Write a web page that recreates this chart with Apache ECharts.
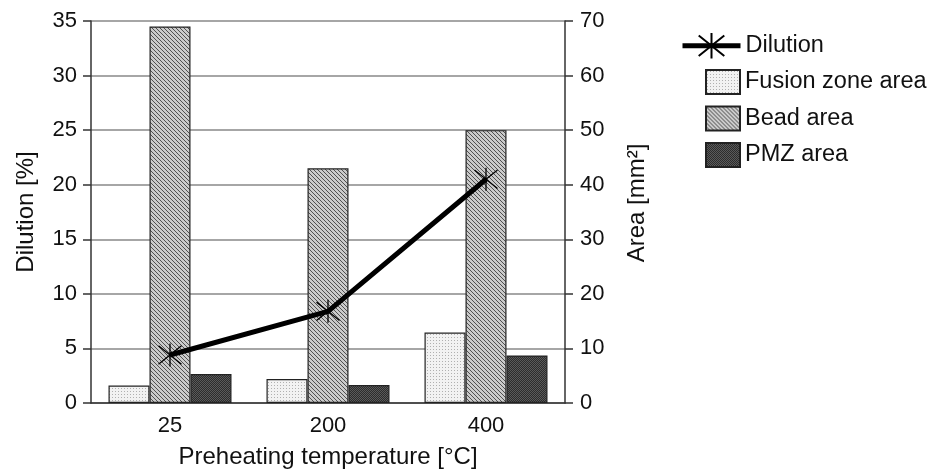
<!DOCTYPE html>
<html>
<head>
<meta charset="utf-8">
<script src="https://cdn.jsdelivr.net/npm/echarts@6/dist/echarts.min.js"></script>
<style>
  html, body { margin: 0; padding: 0; background: #fff; }
  #chart { width: 938px; height: 474px; }
</style>
</head>
<body>
<div id="chart"></div>
<script>
// Preheating temperatures (°C) on the category axis
const temperatures = ['25', '200', '400'];
// Dilution in percent (left axis)
const dilution = [4.4, 8.4, 20.5];
// Cross-section areas in mm² (right axis)
const fusionZoneArea = [3.2, 4.4, 12.9];
const beadArea = [69.0, 43.0, 50.0];
const pmzArea = [5.3, 3.3, 8.7];

// Small tiled textures used as bar fills
function makePattern(size, bg, fg, pixels) {
  const c = document.createElement('canvas');
  c.width = size; c.height = size;
  const ctx = c.getContext('2d');
  ctx.fillStyle = bg;
  ctx.fillRect(0, 0, size, size);
  ctx.fillStyle = fg;
  pixels.forEach(p => ctx.fillRect(p[0], p[1], 1, 1));
  return { image: c, repeat: 'repeat' };
}
const dotted = makePattern(3, '#f2f2f2', '#b0b0b0', [[1, 1]]);
const hatched = makePattern(4, '#cacaca', '#505050', [[0, 0], [1, 1], [2, 2], [3, 3]]);
const dark = makePattern(2, '#2c2c2c', '#5a5a5a', [[0, 0], [1, 1]]);

const FONT = 'Liberation Sans, Arial, sans-serif';
const TXT = '#111';
const STAR = 'path://M10 0 L10 20 M1 2 L19 18 M1 18 L19 2';

const chart = echarts.init(document.getElementById('chart'));
chart.setOption({
  animation: false,
  backgroundColor: '#fff',
  textStyle: { fontFamily: FONT },
  grid: { left: 91, right: 373, top: 21, bottom: 69 },
  legend: [
    {
      data: ['Dilution'],
      orient: 'vertical', left: 675, top: 27,
      itemWidth: 58, itemHeight: 32, itemGap: 8,
      lineStyle: { width: 5, color: '#000' },
      textStyle: { fontSize: 23.5, color: TXT, fontFamily: FONT }
    },
    {
      data: ['Fusion zone area', 'Bead area', 'PMZ area'],
      orient: 'vertical', left: 700, top: 64,
      icon: 'rect',
      itemWidth: 34, itemHeight: 24, itemGap: 10.5,
      textStyle: { fontSize: 23.5, color: TXT, fontFamily: FONT }
    }
  ],
  xAxis: {
    type: 'category',
    data: temperatures,
    name: 'Preheating temperature [°C]',
    nameLocation: 'middle',
    nameGap: 42,
    nameTextStyle: { fontSize: 24, color: TXT, fontFamily: FONT },
    axisLine: { lineStyle: { color: '#333', width: 1.5 } },
    axisTick: { show: false },
    axisLabel: { fontSize: 22, color: TXT, margin: 12, fontFamily: FONT }
  },
  yAxis: [
    {
      type: 'value', min: 0, max: 35, interval: 5,
      name: 'Dilution [%]',
      nameLocation: 'middle',
      nameGap: 53,
      nameTextStyle: { fontSize: 24, color: TXT, fontFamily: FONT },
      axisLine: { show: true, lineStyle: { color: '#333', width: 1.5 } },
      axisTick: { show: true, length: 8, lineStyle: { color: '#333', width: 1.5 } },
      axisLabel: { fontSize: 22, color: TXT, margin: 14, fontFamily: FONT },
      splitLine: { show: true, lineStyle: { color: '#888', width: 1.5 } }
    },
    {
      type: 'value', min: 0, max: 70, interval: 10,
      name: 'Area [mm²]',
      nameLocation: 'middle',
      nameGap: 60,
      nameTextStyle: { fontSize: 24, color: TXT, fontFamily: FONT, padding: [0, 0, 0, 18] },
      axisLine: { show: true, lineStyle: { color: '#333', width: 1.5 } },
      axisTick: { show: true, length: 8, lineStyle: { color: '#333', width: 1.5 } },
      axisLabel: { fontSize: 22, color: TXT, margin: 15, fontFamily: FONT },
      splitLine: { show: false }
    }
  ],
  series: [
    {
      name: 'Fusion zone area', type: 'bar', yAxisIndex: 1,
      data: fusionZoneArea, barWidth: 41, barGap: '0%',
      itemStyle: { color: dotted, borderColor: '#222', borderWidth: 1.2 }
    },
    {
      name: 'Bead area', type: 'bar', yAxisIndex: 1,
      data: beadArea, barWidth: 41, barGap: '0%',
      itemStyle: { color: hatched, borderColor: '#222', borderWidth: 1.2 }
    },
    {
      name: 'PMZ area', type: 'bar', yAxisIndex: 1,
      data: pmzArea, barWidth: 41, barGap: '0%',
      itemStyle: { color: dark, borderColor: '#222', borderWidth: 1.2 }
    },
    {
      name: 'Dilution', type: 'line', yAxisIndex: 0,
      data: dilution, z: 5,
      symbol: STAR, symbolSize: 23, showAllSymbol: true,
      lineStyle: { color: '#000', width: 5 },
      itemStyle: { color: '#000', borderColor: '#000', borderWidth: 1.3 }
    }
  ]
});
</script>
</body>
</html>
